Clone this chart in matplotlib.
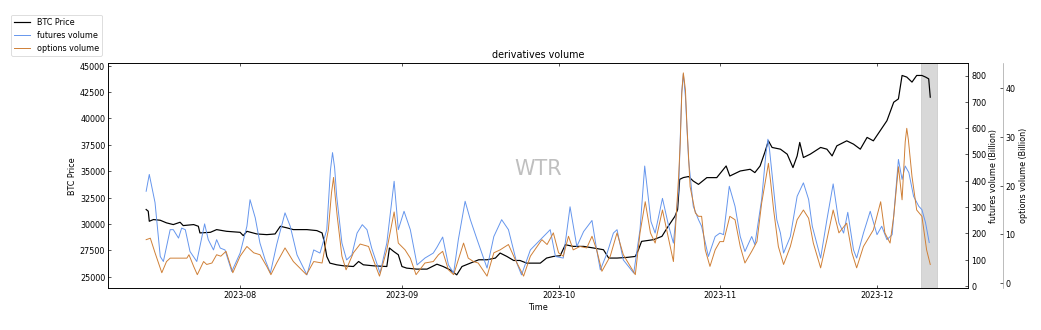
import matplotlib
matplotlib.use("Agg")
import matplotlib.pyplot as plt
import numpy as np
import pandas as pd

# Day offsets are counted from this date
start = pd.Timestamp("2023-07-14")

price_day = [0.0, 0.4, 0.6, 1.4, 2.7, 3.9, 5.2, 6.5, 7.1, 9.1,
             10.0, 10.3, 12.3, 13.5, 15.4, 18.0, 18.6, 19.3, 21.2, 23.1,
             24.7, 25.7, 27.0, 28.2, 30.8, 32.7, 33.7, 34.1, 34.6, 35.2,
             36.5, 37.8, 39.7, 40.7, 41.6, 43.5, 46.1, 46.6, 47.4, 48.3,
             49.0, 49.9, 51.8, 53.8, 55.7, 56.9, 58.2, 59.5, 60.5, 62.1,
             63.7, 65.3, 66.9, 67.8, 69.1, 70.4, 71.6, 72.9, 75.5, 76.7,
             78.0, 79.3, 80.3, 81.8, 83.8, 85.7, 87.6, 88.6, 90.2, 92.1,
             93.7, 94.3, 94.9, 97.2, 98.8, 100.0, 101.3, 101.8, 102.2, 102.9,
             103.9, 104.8, 105.8, 107.4, 109.3, 111.1, 111.8, 113.8, 115.7, 116.6,
             117.6, 118.5, 119.2, 119.9, 121.5, 122.8, 123.9, 124.7, 125.2, 125.9,
             127.2, 129.2, 130.4, 131.4, 132.3, 134.2, 135.5, 136.8, 138.1, 139.3,
             140.6, 141.9, 143.2, 144.1, 144.8, 145.7, 146.7, 147.6, 148.6, 149.3,
             149.9, 150.2]
btc_price = [31378, 31216, 30265, 30426, 30360, 30112, 29950, 30170, 29855, 29950,
             29790, 29160, 29217, 29474, 29313, 29217, 28903, 29313, 29063, 28998,
             29063, 29788, 29636, 29474, 29474, 29380, 29160, 28360, 26933, 26300,
             26142, 26047, 25980, 26456, 26142, 26047, 25980, 27732, 27410, 27094,
             25980, 25828, 25733, 25733, 26200, 25980, 25666, 25190, 25980, 26300,
             26618, 26618, 26780, 27256, 26933, 26552, 26552, 26300, 26300, 26780,
             26933, 26999, 28046, 27885, 27885, 27732, 27570, 26780, 26780, 26842,
             26933, 27570, 28360, 28522, 28837, 29788, 30740, 31378, 34234, 34400,
             34500, 34072, 33758, 34396, 34396, 35500, 34548, 35024, 35186, 34872,
             35500, 36776, 37880, 37253, 37090, 36614, 35348, 36452, 37728, 36300,
             36614, 37253, 37090, 36452, 37404, 37880, 37566, 37090, 38204, 37880,
             38832, 39786, 41536, 41850, 44069, 43917, 43440, 44069, 44069, 43917,
             43750, 42012]

futures_day = [0.0, 0.6, 1.7, 2.7, 3.3, 4.6, 5.2, 6.2, 6.8, 7.5,
               8.4, 9.7, 10.7, 11.2, 11.9, 12.9, 13.5, 14.2, 15.1, 16.4,
               18.0, 19.3, 19.9, 20.9, 21.8, 22.8, 23.8, 25.0, 26.6, 27.6,
               28.9, 30.8, 32.1, 33.3, 34.6, 35.3, 35.7, 36.1, 36.5, 37.5, 38.4, 39.4,
               40.4, 41.4, 42.3, 43.2, 44.8, 46.1, 47.5, 48.3, 49.4, 50.6,
               51.9, 53.4, 55.0, 55.7, 56.8, 57.9, 58.9, 59.8, 61.1, 62.1,
               63.4, 65.3, 66.6, 68.1, 69.4, 71.0, 71.9, 73.6, 76.1, 77.4,
               78.4, 79.9, 81.2, 82.5, 83.8, 85.4, 86.3, 87.0, 88.3, 89.5,
               90.2, 91.4, 93.4, 94.6, 95.5, 96.7, 97.5, 98.9, 100.1, 101.0,
               102.0, 102.3, 102.6, 102.9, 103.3, 103.6, 103.9, 104.8, 105.8, 106.4,
               107.7, 109.0, 109.9, 110.6,
               111.7, 112.8, 113.8, 114.7, 116.0, 116.6, 117.9, 118.7, 119.1, 119.4,
               119.8, 120.8,
               121.5, 122.1, 123.4, 124.7, 125.9, 126.9, 127.6, 129.2, 130.4, 131.6,
               132.7, 133.6, 134.4, 135.5, 136.1, 137.4, 138.7, 140.0, 140.9, 141.9,
               142.9, 144.1, 144.8, 145.4, 146.1, 147.0, 148.0, 148.6, 149.3, 150.0]
futures_volume = [360, 424, 317, 112, 93, 214, 214, 182, 220, 214,
                  131, 93, 188, 236, 176, 137, 176, 144, 137, 55,
                  125, 227, 328, 259, 163, 99, 49, 157, 278, 227,
                  118, 42, 137, 125, 214, 440, 507, 450, 341, 163, 99, 118,
                  201, 233, 214, 144, 49, 163, 398, 214, 284, 214,
                  80, 106, 125, 147, 186, 80, 49, 176, 322, 252,
                  176, 68, 188, 252, 214, 87, 42, 137, 188, 214,
                  112, 106, 301, 150, 207, 249, 137, 61, 125, 201,
                  214, 99, 49, 214, 456, 245, 201, 333, 227, 163,
                  367, 560, 740, 806, 720, 600, 481, 303, 252, 227,
                  112, 188, 201, 195,
                  379, 303, 188, 131, 188, 157, 329, 500, 558, 520,
                  443, 252,
                  201, 125, 188, 341, 392, 329, 227, 106, 252, 388,
                  240, 201, 280, 137, 106, 201, 284, 195, 227, 176,
                  195, 481, 405, 456, 431, 341, 303, 290, 240, 165]

options_day = [0.0, 0.8, 1.7, 3.0, 3.9, 4.6, 6.5, 7.8, 8.2, 9.1,
               9.8, 11.0, 11.6, 12.6, 13.5, 14.3, 15.3, 16.6, 18.0, 19.3,
               20.6, 21.8, 23.1, 23.9, 25.0, 26.6, 28.2, 30.7, 32.1, 33.7,
               34.9, 35.5, 35.9, 36.2, 36.6, 37.5, 38.3, 39.7, 41.0, 42.6, 43.5, 44.7,
               46.1, 47.5, 48.3, 49.6, 50.6, 51.7, 53.4, 55.0, 56.0, 56.8,
               57.9, 58.9, 59.8, 60.8, 61.7, 62.7, 63.6, 65.3, 66.6, 67.8,
               69.4, 70.7, 72.3, 73.6, 75.8, 76.8, 78.0, 79.0, 79.9, 80.9,
               81.8, 83.1, 84.4, 85.4, 86.3, 87.3, 88.9, 90.2, 91.4, 93.7,
               94.6, 95.6, 96.6, 97.5, 98.9, 100.1, 101.0, 102.0, 102.3, 102.6,
               102.9, 103.3, 103.6,
               104.2, 105.2, 105.8, 106.4, 107.1, 108.0, 109.0, 109.9, 110.6, 111.8,
               112.8, 113.8, 114.7, 116.0, 117.0, 117.9, 118.8, 119.2, 119.6, 120.2,
               121.1, 122.1,
               123.4, 124.7, 125.9, 126.9, 127.8, 129.2, 130.4, 131.6, 132.7, 134.2,
               135.2, 136.1, 137.4, 139.3, 140.7, 141.5, 142.5, 143.2, 144.1, 144.8,
               145.4, 145.7, 146.0, 146.7, 147.6, 148.6, 149.5, 150.2]
options_volume = [8.9, 9.2, 6.2, 2.1, 4.4, 5.1, 5.1, 5.1, 5.8, 3.4,
                  1.7, 4.4, 3.8, 4.1, 5.8, 5.5, 6.5, 2.1, 5.5, 7.5,
                  6.2, 5.8, 3.4, 1.7, 4.1, 7.2, 4.4, 1.7, 4.4, 4.1,
                  10.9, 18.5, 21.7, 18.0, 13.7, 5.5, 2.7, 6.2, 8.0, 7.5, 4.8, 1.4,
                  6.8, 14.6, 8.2, 6.8, 5.1, 1.7, 4.1, 4.4, 5.8, 6.5,
                  2.7, 1.7, 4.8, 8.2, 5.1, 4.4, 4.1, 1.4, 6.2, 6.8,
                  7.9, 4.8, 1.4, 5.5, 8.9, 7.9, 10.3, 6.2, 5.5, 9.6,
                  6.8, 7.5, 7.2, 9.6, 6.8, 2.4, 5.5, 10.3, 5.8, 1.7,
                  10.3, 16.7, 10.3, 8.2, 15.0, 8.9, 4.4, 21.9, 28.7, 39.0,
                  43.2, 39.7, 32.1,
                  19.8, 14.4, 13.7, 13.7, 6.8, 3.4, 6.8, 8.5, 8.5, 13.7,
                  13.0, 7.5, 4.1, 6.5, 8.5, 16.4, 22.0, 24.6, 21.0, 15.0,
                  7.5, 3.8,
                  7.5, 13.0, 15.0, 13.3, 8.2, 3.1, 8.9, 15.0, 10.3, 12.3,
                  6.2, 3.1, 7.5, 10.9, 16.7, 10.3, 8.2, 13.7, 23.9, 17.1,
                  29.0, 31.8, 29.5, 21.9, 15.0, 13.7, 6.8, 3.8]

# latest window, shaded grey
shade_start = "2023-12-09 12:00"
shade_end = "2023-12-12 12:00"


def to_time(days):
    return (start + pd.to_timedelta(np.asarray(days, dtype=float), unit="D")).to_numpy()


DPI = 57.6
fig = plt.figure(figsize=(1041.4 / DPI, 330.4 / DPI), dpi=DPI)
ax = fig.add_axes([108 / 1041, 42 / 330, 860 / 1041, 225 / 330])
ax2 = ax.twinx()
ax3 = ax.twinx()
ax3.spines["right"].set_position(("axes", 1.04))

ax.axvspan(pd.Timestamp(shade_start), pd.Timestamp(shade_end), color="gray", alpha=0.3)
l1, = ax.plot(to_time(price_day), btc_price, color="black", lw=1.5, label="BTC Price")
l2, = ax2.plot(to_time(futures_day), futures_volume, color="cornflowerblue", lw=1.2,
               label="futures volume")
l3, = ax3.plot(to_time(options_day), options_volume, color="#cf7f35", lw=1.2,
               label="options volume")

ax.set_xlim(start - pd.Timedelta(days=7.3), start + pd.Timedelta(days=157.5))
ax.set_ylim(23950, 45280)
ax2.set_ylim(-7.6, 849)
ax3.set_ylim(-1.03, 45.3)

ax.tick_params(axis="both", direction="in")
ax.tick_params(axis="x", top=True)
ax2.tick_params(direction="in")
ax3.tick_params(direction="in")
ax3.spines["right"].set_color("#999999")

ax.set_title("derivatives volume")
ax.set_xlabel("Time")
ax.set_ylabel("BTC Price")
ax2.set_ylabel("futures volume (Billion)")
ax3.set_ylabel("options volume (Billion)")

ax.text(0.5, 0.505, "WTR", transform=ax.transAxes, ha="center", va="baseline",
        fontsize=26, color="gray", alpha=0.5)

fig.legend(handles=[l1, l2, l3], loc="upper left",
           bbox_to_anchor=(11 / 1041, 1 - 15 / 330), borderaxespad=0)

fig.savefig("out.png", dpi=DPI)
